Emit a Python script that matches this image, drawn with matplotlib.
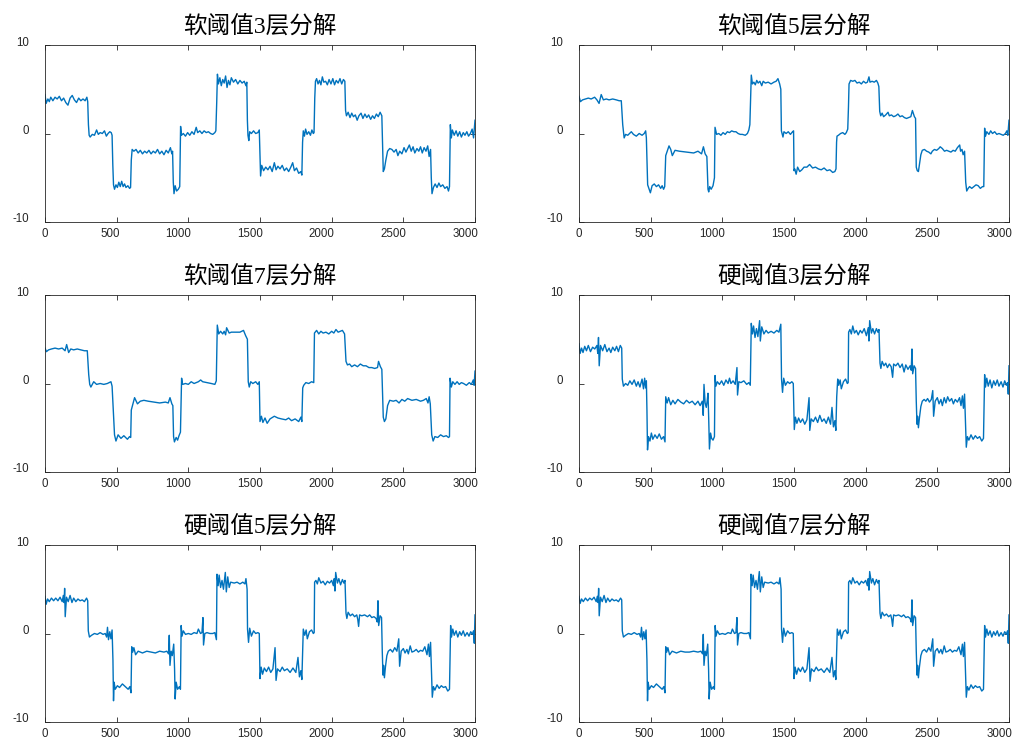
import matplotlib
matplotlib.use("Agg")
import matplotlib.pyplot as plt
from matplotlib.transforms import ScaledTranslation

plt.rcParams["axes.unicode_minus"] = False

# ---------------- data ----------------
titles = ["软阈值3层分解", "软阈值5层分解", "软阈值7层分解",
          "硬阈值3层分解", "硬阈值5层分解", "硬阈值7层分解"]
x_ticks = [0, 500, 1000, 1500, 2000, 2500, 3000]
y_ticks = [-10, 0, 10]

soft3 = [(0,4.4),(8,3.4),(20,3.9),(30,3.6),(40,4.1),(55,3.7),(70,4.1),(85,3.9),(100,4.2),(115,3.7),
 (130,4.0),(145,3.5),(160,3.2),(175,4.0),(190,4.3),(205,3.8),(220,3.5),(235,4.0),(250,3.7),(265,3.9),
 (280,3.7),(292,4.1),(298,3.6),(303,1.0),(308,-0.2),(315,-0.4),(330,-0.1),(345,-0.2),(360,0.4),(372,-0.1),
 (385,0.1),(400,0.0),(415,0.3),(428,-0.3),(440,0.0),(452,0.2),(462,0.1),(468,-0.2),(473,-3.5),(478,-5.8),
 (485,-6.3),(495,-5.8),(505,-6.1),(515,-5.5),(525,-6.0),(535,-5.4),(545,-6.0),(555,-5.7),(565,-6.1),(578,-5.9),
 (590,-6.2),(597,-6.1),(602,-3.0),(608,-1.8),(620,-2.0),(635,-1.8),(650,-2.2),(665,-1.9),(680,-2.3),(695,-2.0),
 (710,-2.2),(725,-1.9),(740,-2.3),(755,-2.0),(770,-2.2),(785,-1.8),(800,-2.3),(815,-2.0),(830,-2.4),(845,-1.9),
 (860,-2.2),(875,-1.6),(885,-2.3),(890,-2.0),(895,-5.5),(900,-6.8),(908,-5.9),(918,-6.5),(930,-6.3),(940,-6.0),
 (946,0.8),(952,-0.2),(965,0.0),(980,-0.3),(995,0.1),(1010,-0.2),(1025,0.2),(1040,-0.1),(1055,0.7),(1065,0.1),
 (1080,0.3),(1095,0.0),(1110,0.3),(1125,0.1),(1140,0.2),(1155,0.0),(1170,-0.1),(1185,0.1),(1192,0.3),(1198,3.5),
 (1203,6.7),(1210,5.6),(1220,6.3),(1230,5.4),(1240,6.1),(1250,5.7),(1260,6.5),(1270,5.2),(1280,6.0),(1290,5.5),
 (1300,6.3),(1315,5.8),(1330,6.1),(1345,5.6),(1360,6.0),(1375,5.7),(1390,5.9),(1402,5.4),(1408,5.8),(1412,1.5),
 (1416,-0.2),(1422,-0.8),(1428,0.2),(1440,0.0),(1455,0.3),(1470,0.0),(1485,0.1),(1495,0.4),(1500,-2.5),(1504,-4.8),
 (1512,-3.6),(1525,-4.2),(1540,-3.8),(1555,-4.1),(1570,-3.7),(1585,-4.3),(1600,-3.3),(1612,-4.1),(1625,-3.7),(1640,-4.0),
 (1655,-3.6),(1670,-4.2),(1685,-3.9),(1700,-4.3),(1715,-3.8),(1728,-3.3),(1740,-4.2),(1755,-3.9),(1770,-4.5),(1785,-4.3),
 (1792,-4.7),(1797,-1.0),(1802,0.3),(1810,-0.3),(1818,0.5),(1828,-0.1),(1840,0.2),(1852,-0.2),(1862,0.4),(1872,0.0),
 (1877,0.1),(1882,4.0),(1887,5.9),(1895,6.2),(1905,5.6),(1915,6.0),(1925,5.5),(1935,6.4),(1945,5.8),(1958,5.9),
 (1970,5.5),(1982,6.1),(1995,5.6),(2008,6.2),(2020,5.5),(2032,6.0),(2045,5.7),(2058,6.2),(2070,5.6),(2082,6.1),
 (2092,5.9),(2097,2.6),(2103,2.0),(2115,2.4),(2128,1.8),(2140,2.3),(2152,1.9),(2165,2.1),(2178,1.5),(2190,2.0),
 (2205,2.3),(2218,1.7),(2232,2.2),(2245,1.8),(2258,2.1),(2272,1.6),(2285,2.0),(2298,1.7),(2312,2.2),(2325,1.9),
 (2338,2.4),(2350,2.0),(2356,-2.0),(2360,-4.3),(2368,-4.0),(2378,-3.0),(2390,-2.0),(2405,-1.7),(2420,-1.8),(2435,-2.1),
 (2450,-1.8),(2462,-2.5),(2475,-2.0),(2490,-2.3),(2505,-1.6),(2518,-2.1),(2530,-1.7),(2542,-1.3),(2555,-2.0),(2568,-1.5),
 (2580,-2.2),(2595,-1.7),(2608,-2.0),(2620,-1.5),(2632,-2.2),(2645,-1.6),(2658,-2.0),(2670,-1.4),(2680,-2.6),(2690,-1.8),
 (2695,-5.0),(2700,-6.8),(2710,-6.1),(2722,-5.7),(2735,-6.1),(2748,-5.6),(2760,-6.0),(2775,-5.8),(2790,-6.2),(2805,-6.0),
 (2815,-6.5),(2822,-6.0),(2828,1.0),(2835,-0.5),(2842,0.4),(2855,-0.2),(2868,0.3),(2880,-0.3),(2893,0.2),(2905,-0.4),
 (2918,0.1),(2930,-0.2),(2943,0.2),(2955,-0.3),(2968,0.0),(2980,0.5),(2990,-0.5),(3000,1.5)]

soft5 = [(0,4.2),(10,3.6),(25,3.8),(45,3.9),(65,4.0),(85,3.9),(109,4.1),(125,3.8),(140,3.4),(155,4.4),
 (170,3.8),(190,3.9),(210,3.8),(235,3.9),(260,3.8),(280,3.7),(295,3.7),(305,1.0),(315,-0.5),(325,-0.1),
 (340,-0.2),(365,0.2),(380,-0.1),(400,-0.3),(420,0.0),(440,-0.2),(455,0.0),(465,0.3),(470,-0.5),(479,-5.8),
 (490,-6.3),(498,-6.7),(510,-5.9),(525,-5.7),(540,-6.0),(555,-5.8),(570,-6.2),(580,-5.9),(590,-6.3),(598,-6.0),
 (605,-2.5),(628,-1.4),(640,-1.8),(651,-2.5),(670,-1.9),(700,-2.0),(750,-2.1),(800,-2.2),(830,-2.0),(855,-2.3),
 (868,-1.5),(880,-2.3),(892,-2.6),(900,-6.3),(905,-6.6),(912,-6.0),(922,-6.3),(935,-5.9),(945,-5.0),(949,0.7),
 (960,-0.1),(975,0.0),(990,-0.2),(1005,0.1),(1020,-0.1),(1035,0.2),(1050,0.1),(1065,0.3),(1080,0.2),(1095,0.2),
 (1110,0.0),(1125,-0.1),(1140,-0.1),(1160,-0.2),(1175,0.0),(1185,0.4),(1192,1.0),(1202,6.6),(1210,5.6),(1220,5.8),
 (1230,5.5),(1240,6.0),(1250,5.7),(1262,5.9),(1275,5.4),(1285,5.9),(1300,5.7),(1320,5.8),(1340,5.6),(1360,5.8),
 (1375,5.9),(1388,6.2),(1400,5.6),(1408,5.0),(1412,0.3),(1423,-0.4),(1430,0.2),(1445,0.0),(1460,0.2),(1475,-0.1),
 (1490,0.2),(1497,0.3),(1500,-4.2),(1505,-4.0),(1515,-4.6),(1525,-3.8),(1540,-4.3),(1555,-4.1),(1570,-3.8),(1590,-3.8),
 (1609,-3.5),(1630,-3.9),(1650,-3.8),(1670,-4.0),(1690,-4.1),(1710,-3.9),(1730,-4.2),(1750,-4.1),(1770,-4.4),(1785,-4.3),
 (1793,-4.0),(1797,-1.0),(1800,-0.3),(1810,-0.2),(1825,0.0),(1840,0.1),(1855,-0.1),(1865,0.1),(1875,0.5),(1880,3.0),
 (1884,5.6),(1895,6.0),(1910,5.9),(1925,6.0),(1940,5.7),(1955,5.8),(1970,5.6),(1985,5.9),(2000,5.7),(2012,5.8),
 (2023,6.4),(2030,5.8),(2045,5.9),(2060,5.8),(2075,6.0),(2085,5.7),(2092,5.3),(2098,2.5),(2105,2.0),(2115,2.3),
 (2125,1.9),(2140,2.1),(2156,2.4),(2165,2.0),(2180,2.1),(2195,1.9),(2210,2.0),(2225,2.2),(2240,1.9),(2255,2.0),
 (2270,1.8),(2285,1.7),(2300,1.8),(2315,1.9),(2326,2.6),(2340,1.9),(2348,1.7),(2353,-3.8),(2360,-4.2),(2368,-4.3),
 (2375,-3.5),(2385,-2.4),(2395,-1.9),(2410,-1.8),(2425,-2.0),(2440,-2.1),(2455,-2.3),(2465,-2.0),(2480,-1.8),(2495,-1.9),
 (2510,-1.7),(2520,-1.5),(2535,-1.7),(2550,-2.0),(2565,-1.9),(2580,-2.0),(2595,-2.1),(2610,-1.9),(2625,-2.0),(2640,-1.6),
 (2656,-1.3),(2662,-2.0),(2672,-1.8),(2680,-2.4),(2690,-2.0),(2698,-5.5),(2705,-6.5),(2715,-6.2),(2725,-6.0),(2740,-6.2),
 (2755,-6.0),(2770,-5.8),(2785,-5.9),(2800,-6.2),(2815,-6.0),(2824,-6.0),(2830,0.6),(2836,-0.3),(2845,0.2),(2860,-0.1),
 (2872,0.3),(2885,0.0),(2900,0.2),(2915,-0.1),(2930,0.0),(2945,-0.1),(2960,-0.2),(2975,0.0),(2985,0.3),(2992,-0.2),
 (3000,1.5)]

soft7 = [(0,4.0),(10,3.6),(25,3.8),(45,3.9),(70,4.0),(95,3.9),(120,4.0),(140,3.7),(151,4.4),(165,3.5),
 (180,3.9),(200,3.8),(225,3.9),(250,3.8),(275,3.7),(295,3.7),(305,1.0),(312,-0.1),(320,-0.4),(340,0.2),
 (360,-0.1),(385,0.0),(410,-0.1),(435,0.0),(460,0.2),(468,-0.3),(485,-5.8),(495,-6.5),(510,-5.8),(530,-6.2),
 (550,-5.9),(575,-6.3),(590,-6.0),(598,-6.1),(602,-3.0),(625,-1.6),(645,-2.3),(665,-2.0),(690,-1.9),(720,-2.0),
 (760,-2.1),(800,-2.2),(840,-2.1),(860,-2.2),(872,-1.6),(885,-2.3),(892,-2.5),(897,-6.0),(903,-6.6),(915,-6.1),
 (925,-6.4),(935,-5.9),(945,-5.5),(953,0.6),(960,-0.1),(980,0.0),(1000,-0.1),(1020,0.2),(1040,0.0),(1070,0.2),
 (1086,0.4),(1100,0.2),(1130,0.1),(1160,0.0),(1185,-0.1),(1195,0.3),(1202,6.6),(1212,5.6),(1225,5.9),(1240,5.6),
 (1250,5.9),(1260,5.5),(1267,6.3),(1285,5.7),(1300,5.8),(1330,5.8),(1360,5.8),(1385,6.0),(1400,5.4),(1412,5.0),
 (1418,0.2),(1425,-0.4),(1435,0.2),(1450,0.0),(1470,0.2),(1485,-0.1),(1495,0.2),(1500,-4.3),(1510,-3.7),(1520,-4.4),
 (1535,-3.9),(1550,-4.5),(1570,-4.0),(1600,-3.7),(1625,-3.9),(1650,-4.0),(1680,-4.1),(1700,-3.9),(1720,-4.2),(1745,-4.0),
 (1770,-4.3),(1785,-3.8),(1792,-4.3),(1798,-0.5),(1805,-0.2),(1820,0.1),(1840,0.0),(1860,0.2),(1875,0.1),(1880,5.7),
 (1895,6.0),(1910,5.6),(1925,5.9),(1940,5.7),(1960,5.8),(1980,5.6),(2000,5.9),(2015,5.7),(2030,6.1),(2045,5.8),
 (2060,5.9),(2075,6.0),(2090,5.6),(2100,2.5),(2110,2.1),(2125,2.2),(2140,1.9),(2160,2.1),(2180,1.9),(2200,2.2),
 (2220,2.0),(2240,2.0),(2260,1.8),(2280,1.8),(2300,1.7),(2320,1.8),(2327,2.5),(2340,1.9),(2350,1.6),(2360,-3.8),
 (2368,-4.3),(2378,-4.0),(2390,-2.5),(2405,-1.9),(2430,-2.0),(2450,-1.9),(2470,-2.2),(2490,-1.8),(2510,-2.0),(2530,-1.7),
 (2560,-1.9),(2590,-1.8),(2620,-2.0),(2640,-1.9),(2660,-1.7),(2672,-2.2),(2680,-1.5),(2688,-2.3),(2698,-5.8),(2708,-6.5),
 (2720,-6.0),(2740,-6.1),(2760,-5.8),(2780,-6.0),(2800,-5.9),(2815,-6.1),(2822,-6.0),(2826,0.6),(2835,-0.4),(2845,0.2),
 (2860,-0.1),(2875,0.2),(2890,-0.1),(2905,0.1),(2920,0.0),(2940,-0.2),(2960,0.1),(2975,-0.1),(2988,0.4),(2994,-0.2),
 (3000,1.4)]

hard3 = [(0,4.5),(8,3.4),(18,4.0),(28,3.5),(40,4.2),(52,3.7),(65,4.3),(80,3.6),(95,4.1),(110,3.9),
 (125,4.3),(131,3.4),(136,5.2),(141,2.0),(150,4.3),(165,3.7),(180,4.4),(195,3.6),(210,4.0),(222,3.5),
 (235,4.1),(250,3.7),(262,4.2),(275,3.6),(288,4.3),(298,4.0),(302,0.5),(310,-0.3),(325,0.0),(340,-0.2),
 (355,0.3),(370,-0.1),(385,0.4),(400,-0.3),(412,0.2),(425,-0.4),(440,0.5),(450,-0.6),(458,0.6),(465,-0.5),
 (470,0.3),(474,-3.0),(478,-7.5),(485,-6.0),(495,-6.5),(505,-5.6),(515,-6.3),(530,-5.8),(545,-6.2),(560,-5.7),
 (575,-6.3),(590,-6.0),(600,-6.6),(605,-1.5),(615,-2.2),(625,-1.6),(640,-2.4),(655,-1.9),(670,-2.3),(690,-1.8),
 (710,-2.1),(730,-2.3),(750,-1.9),(770,-2.2),(790,-2.0),(810,-2.4),(830,-2.0),(845,-2.5),(860,-2.0),(867,-3.6),
 (872,-0.1),(880,-2.2),(888,-2.7),(894,-2.0),(900,-1.1),(905,-4.0),(910,-7.4),(918,-5.6),(925,-6.2),(935,-6.4),
 (945,-6.0),(949,0.9),(955,-0.3),(965,0.2),(980,-0.1),(995,0.3),(1010,-0.2),(1025,0.4),(1040,0.0),(1050,0.6),
 (1060,0.0),(1075,0.3),(1090,-0.1),(1102,1.8),(1106,-1.3),(1115,0.2),(1130,0.1),(1150,0.3),(1170,-0.1),(1185,0.1),
 (1195,-0.2),(1202,6.8),(1210,5.6),(1218,6.5),(1228,5.2),(1238,6.2),(1248,5.3),(1260,7.1),(1265,4.8),(1275,6.4),
 (1290,5.6),(1305,6.0),(1320,5.7),(1340,5.9),(1360,5.7),(1380,6.0),(1395,5.8),(1408,6.7),(1413,0.5),(1420,-1.0),
 (1428,0.6),(1440,-0.2),(1455,0.2),(1470,0.0),(1485,0.2),(1495,0.0),(1502,-5.2),(1510,-3.8),(1520,-4.5),(1532,-3.9),
 (1545,-4.4),(1560,-4.0),(1575,-4.6),(1590,-4.1),(1605,-1.6),(1610,-5.3),(1620,-4.0),(1635,-4.3),(1650,-3.8),(1665,-4.4),
 (1680,-3.6),(1695,-4.3),(1710,-4.0),(1725,-4.5),(1740,-3.8),(1755,-4.6),(1765,-2.7),(1775,-4.9),(1785,-4.2),(1792,-5.3),
 (1798,-1.5),(1805,0.5),(1812,-0.2),(1822,0.4),(1830,-0.6),(1845,0.2),(1860,0.5),(1872,0.0),(1878,0.1),(1881,5.8),
 (1890,6.1),(1900,5.6),(1910,6.5),(1922,5.7),(1935,6.0),(1948,5.5),(1962,6.0),(1975,5.7),(1990,6.2),(2005,5.4),
 (2018,6.3),(2023,4.8),(2028,7.1),(2040,5.7),(2050,6.2),(2062,5.6),(2075,6.2),(2085,5.8),(2093,6.1),(2100,2.3),
 (2106,1.7),(2115,2.5),(2128,2.0),(2140,2.3),(2152,1.8),(2165,2.2),(2178,1.9),(2188,0.7),(2195,2.2),(2210,2.0),
 (2225,2.3),(2240,1.8),(2255,2.2),(2268,1.3),(2280,2.1),(2295,1.6),(2310,2.0),(2318,1.5),(2323,3.9),(2328,1.1),
 (2338,2.0),(2348,1.7),(2353,-2.0),(2358,-4.6),(2362,-3.7),(2368,-5.0),(2375,-3.9),(2385,-2.6),(2395,-2.0),(2408,-1.8),
 (2420,-2.0),(2432,-1.7),(2445,-2.1),(2458,-1.8),(2468,-0.8),(2474,-3.7),(2485,-2.0),(2500,-1.6),(2512,-2.3),(2525,-1.8),
 (2535,-2.5),(2548,-1.6),(2560,-2.2),(2572,-1.5),(2585,-2.0),(2600,-1.7),(2612,-2.3),(2625,-1.8),(2640,-2.1),(2655,-1.6),
 (2665,-2.5),(2675,-1.4),(2682,-2.8),(2690,-1.2),(2698,-5.0),(2702,-7.2),(2710,-6.0),(2720,-6.4),(2735,-5.8),(2750,-6.3),
 (2765,-5.9),(2780,-6.2),(2795,-6.0),(2810,-6.5),(2822,-6.2),(2830,1.0),(2836,-0.4),(2845,0.6),(2855,-0.3),(2868,0.4),
 (2880,-0.5),(2893,0.3),(2905,-0.2),(2918,0.4),(2930,-0.3),(2945,0.2),(2958,-0.4),(2970,0.3),(2982,-0.2),(2990,0.1),
 (2995,-1.2),(3000,2.0)]

hard5 = [(0,4.2),(8,3.3),(18,3.9),(30,3.6),(45,4.0),(60,3.7),(75,4.0),(90,3.7),(105,4.1),(120,3.6),
 (128,4.3),(133,3.5),(137,5.1),(141,1.9),(150,4.1),(162,3.6),(175,4.3),(188,3.5),(200,4.0),(215,3.6),
 (230,3.9),(245,3.7),(260,3.8),(275,3.6),(290,4.0),(298,3.7),(302,0.3),(310,-0.4),(325,-0.2),(345,0.0),
 (365,-0.1),(385,0.1),(405,-0.1),(420,0.0),(430,-0.4),(436,0.7),(443,-0.7),(452,0.2),(460,-0.6),(468,0.4),
 (474,-3.0),(478,-7.6),(482,-5.5),(490,-6.3),(505,-5.9),(520,-6.1),(540,-5.7),(560,-6.0),(580,-6.3),(592,-6.0),
 (600,-6.7),(605,-1.5),(612,-2.1),(620,-1.6),(632,-2.4),(650,-2.0),(680,-2.2),(710,-2.0),(740,-2.1),(770,-2.2),
 (800,-2.0),(830,-2.1),(850,-2.0),(862,-2.3),(867,-0.2),(872,-3.6),(880,-2.0),(888,-2.5),(898,-1.2),(904,-4.0),
 (908,-7.4),(915,-5.5),(925,-6.3),(938,-6.0),(945,-6.3),(950,0.9),(956,-0.3),(965,0.3),(980,-0.1),(1000,0.0),
 (1020,-0.1),(1040,0.1),(1060,0.0),(1070,0.5),(1085,0.0),(1095,0.1),(1102,1.8),(1106,-1.3),(1115,0.0),(1130,0.1),
 (1150,0.0),(1170,0.0),(1185,0.1),(1196,-0.7),(1200,6.7),(1208,5.4),(1215,6.6),(1225,5.2),(1235,6.0),(1245,5.0),
 (1258,6.9),(1265,4.7),(1275,6.4),(1285,5.2),(1295,5.8),(1320,5.7),(1340,5.8),(1360,5.6),(1380,5.8),(1395,5.6),
 (1402,6.2),(1410,5.0),(1413,0.5),(1420,-1.0),(1428,0.6),(1440,-0.3),(1455,0.3),(1470,0.0),(1485,0.1),(1495,0.0),
 (1500,-5.1),(1508,-3.8),(1518,-4.6),(1530,-3.9),(1545,-4.3),(1560,-3.8),(1575,-4.4),(1590,-4.0),(1605,-1.6),(1612,-5.3),
 (1622,-4.0),(1640,-4.3),(1655,-3.8),(1670,-4.2),(1690,-4.0),(1710,-4.4),(1730,-3.9),(1750,-4.4),(1765,-2.7),(1775,-4.9),
 (1785,-4.2),(1792,-5.2),(1798,-1.5),(1802,0.5),(1812,-0.2),(1822,0.4),(1830,-0.6),(1845,0.2),(1860,0.4),(1872,0.0),
 (1878,0.1),(1881,5.8),(1890,6.0),(1900,5.6),(1910,6.3),(1925,5.7),(1940,5.9),(1955,5.5),(1970,5.9),(1985,5.7),
 (2000,6.0),(2012,5.4),(2018,6.2),(2023,4.8),(2028,6.9),(2040,5.7),(2050,6.2),(2062,5.5),(2075,6.1),(2085,5.7),
 (2093,6.0),(2100,2.3),(2106,1.7),(2115,2.4),(2130,2.0),(2145,2.2),(2160,1.9),(2175,2.1),(2182,1.6),(2188,0.8),
 (2195,2.1),(2210,2.0),(2230,2.1),(2250,1.9),(2265,2.1),(2280,1.8),(2295,1.9),(2310,1.7),(2318,1.3),(2323,3.7),
 (2328,0.9),(2338,2.0),(2348,1.8),(2353,-2.0),(2358,-4.7),(2362,-3.6),(2368,-5.0),(2375,-3.8),(2385,-2.5),(2395,-2.0),
 (2410,-1.8),(2425,-2.1),(2440,-1.6),(2455,-2.0),(2468,-0.6),(2474,-3.7),(2485,-2.0),(2500,-1.7),(2512,-2.2),(2525,-1.8),
 (2535,-2.3),(2548,-1.4),(2560,-2.1),(2575,-2.0),(2590,-1.8),(2605,-2.1),(2620,-1.9),(2635,-2.0),(2650,-1.5),(2665,-2.4),
 (2675,-1.2),(2682,-2.6),(2690,-1.0),(2698,-5.0),(2702,-7.2),(2710,-6.0),(2720,-6.4),(2735,-5.8),(2750,-6.2),(2765,-5.9),
 (2780,-6.1),(2795,-6.0),(2810,-6.5),(2822,-6.3),(2830,0.9),(2836,-0.4),(2845,0.5),(2855,-0.2),(2868,0.3),(2880,-0.4),
 (2893,0.2),(2905,-0.2),(2918,0.3),(2930,-0.3),(2945,0.1),(2958,-0.3),(2970,0.2),(2982,-0.1),(2990,0.3),(2995,-1.1),
 (3000,2.1)]

hard7 = [(0,4.2),(8,3.4),(18,3.9),(30,3.6),(45,4.0),(60,3.7),(75,4.0),(90,3.8),(105,4.1),(120,3.6),
 (128,4.2),(133,3.5),(137,5.1),(141,2.0),(150,4.1),(162,3.6),(175,4.3),(188,3.5),(200,4.0),(215,3.6),
 (230,3.9),(245,3.7),(260,3.8),(275,3.6),(290,4.0),(298,3.8),(302,0.3),(310,-0.4),(325,-0.2),(345,0.0),
 (365,-0.1),(385,0.1),(405,-0.1),(420,0.0),(430,-0.4),(436,0.7),(443,-0.7),(452,0.2),(460,-0.6),(468,0.4),
 (474,-3.0),(478,-7.6),(482,-5.5),(490,-6.3),(505,-5.9),(520,-6.1),(540,-5.7),(560,-6.0),(580,-6.3),(592,-6.0),
 (600,-6.7),(605,-1.5),(612,-2.1),(620,-1.6),(632,-2.4),(650,-2.0),(680,-2.2),(710,-2.0),(740,-2.1),(770,-2.1),
 (800,-2.0),(830,-2.1),(850,-2.0),(862,-2.3),(867,-0.1),(872,-3.6),(880,-2.0),(888,-2.5),(898,-1.2),(904,-4.0),
 (908,-7.4),(915,-5.5),(925,-6.3),(938,-6.0),(945,-6.3),(950,0.9),(956,-0.3),(965,0.3),(980,-0.1),(1000,0.0),
 (1020,-0.1),(1040,0.1),(1060,0.0),(1070,0.5),(1085,0.0),(1095,0.1),(1102,1.8),(1106,-1.3),(1115,0.0),(1130,0.1),
 (1150,0.0),(1170,0.0),(1185,0.1),(1196,-0.6),(1200,6.7),(1208,5.4),(1215,6.6),(1225,5.2),(1235,6.0),(1245,5.0),
 (1258,7.0),(1265,4.7),(1275,6.4),(1285,5.2),(1295,5.8),(1320,5.7),(1340,5.8),(1360,5.6),(1380,5.8),(1395,5.6),
 (1402,6.3),(1410,5.0),(1413,0.5),(1420,-1.0),(1428,0.6),(1440,-0.3),(1455,0.3),(1470,0.0),(1485,0.1),(1495,0.0),
 (1500,-5.1),(1508,-3.8),(1518,-4.6),(1530,-3.9),(1545,-4.3),(1560,-3.8),(1575,-4.4),(1590,-4.0),(1605,-1.6),(1612,-5.4),
 (1622,-4.0),(1640,-4.3),(1655,-3.8),(1670,-4.2),(1690,-4.0),(1710,-4.4),(1730,-3.9),(1750,-4.4),(1765,-2.7),(1775,-4.9),
 (1785,-4.2),(1792,-5.2),(1798,-1.5),(1802,0.5),(1812,-0.2),(1822,0.4),(1830,-0.6),(1845,0.2),(1860,0.4),(1872,0.0),
 (1878,0.1),(1881,5.8),(1890,6.0),(1900,5.6),(1910,6.3),(1925,5.7),(1940,5.9),(1955,5.5),(1970,5.9),(1985,5.7),
 (2000,6.0),(2012,5.4),(2018,6.2),(2023,4.9),(2028,7.0),(2040,5.7),(2050,6.2),(2062,5.5),(2075,6.1),(2085,5.7),
 (2093,6.0),(2100,2.3),(2106,1.7),(2115,2.4),(2130,2.0),(2145,2.2),(2160,1.9),(2175,2.1),(2182,1.6),(2188,0.8),
 (2195,2.1),(2210,2.0),(2230,2.1),(2250,1.9),(2265,2.1),(2280,1.8),(2295,1.9),(2310,1.7),(2318,1.3),(2323,3.8),
 (2328,0.9),(2338,2.0),(2348,1.8),(2353,-2.0),(2358,-4.7),(2362,-3.6),(2368,-5.0),(2375,-3.8),(2385,-2.5),(2395,-2.0),
 (2410,-1.8),(2425,-2.1),(2440,-1.6),(2455,-2.0),(2468,-0.6),(2474,-3.7),(2485,-2.0),(2500,-1.7),(2512,-2.2),(2525,-1.8),
 (2535,-2.3),(2548,-1.4),(2560,-2.1),(2575,-2.0),(2590,-1.8),(2605,-2.1),(2620,-1.9),(2635,-2.0),(2650,-1.5),(2665,-2.4),
 (2675,-1.2),(2682,-2.6),(2690,-1.0),(2698,-5.0),(2702,-7.2),(2710,-6.0),(2720,-6.4),(2735,-5.8),(2750,-6.2),(2765,-5.9),
 (2780,-6.1),(2795,-6.0),(2810,-6.5),(2822,-6.3),(2830,0.9),(2836,-0.4),(2845,0.5),(2855,-0.2),(2868,0.3),(2880,-0.4),
 (2893,0.2),(2905,-0.2),(2918,0.3),(2930,-0.3),(2945,0.1),(2958,-0.3),(2970,0.2),(2982,-0.1),(2990,0.3),(2995,-1.1),
 (3000,2.1)]

# order: row by row (left, right) as in the reference
panels = [(soft3, titles[0]), (soft5, titles[1]),
          (soft7, titles[2]), (hard3, titles[3]),
          (hard5, titles[4]), (hard7, titles[5])]

# ---------------- figure ----------------
W, H = 1014, 739
fig = plt.figure(figsize=(W / 100, H / 100), dpi=100)

col_left = [45, 579]
col_w = 430
row_top = [45, 295, 545]
row_h = 177

line_color = "#0072BD"
axis_color = "#262626"
title_font = ["Liberation Serif", "Noto Sans CJK SC"]

# small pixel shifts of tick labels, as they sit in the reference
x_lab_shift = ScaledTranslation(3 / 100, 0, fig.dpi_scale_trans)
y_lab_shift = ScaledTranslation(-3 / 100, 4 / 100, fig.dpi_scale_trans)

for i, (series, title) in enumerate(panels):
    r, c = divmod(i, 2)
    left = col_left[c] / W
    bottom = 1 - (row_top[r] + row_h) / H
    ax = fig.add_axes([left, bottom, col_w / W, row_h / H])
    xs = [p[0] for p in series]
    ys = [p[1] for p in series]
    ax.plot(xs, ys, color=line_color, linewidth=1.0)
    ax.set_xlim(0, 3000)
    ax.set_ylim(-10, 10)
    ax.set_xticks(x_ticks)
    ax.set_yticks(y_ticks)
    ax.tick_params(direction="in", length=3.7, width=0.6, top=True, right=True,
                   labelsize=8.3, colors=axis_color)
    ax.tick_params(axis="x", pad=4.5)
    ax.tick_params(axis="y", pad=9.5)
    for lab in ax.get_xticklabels():
        lab.set_fontfamily("Liberation Sans")
        lab.set_horizontalalignment("right")
        lab.set_transform(lab.get_transform() + x_lab_shift)
    for lab in ax.get_yticklabels():
        lab.set_fontfamily("Liberation Sans")
        lab.set_transform(lab.get_transform() + y_lab_shift)
    for s in ax.spines.values():
        s.set_color(axis_color)
        s.set_linewidth(0.6)
    ax.set_title(title, fontsize=17, family=title_font, pad=9, color="black")

fig.savefig("out.png", dpi=100)
